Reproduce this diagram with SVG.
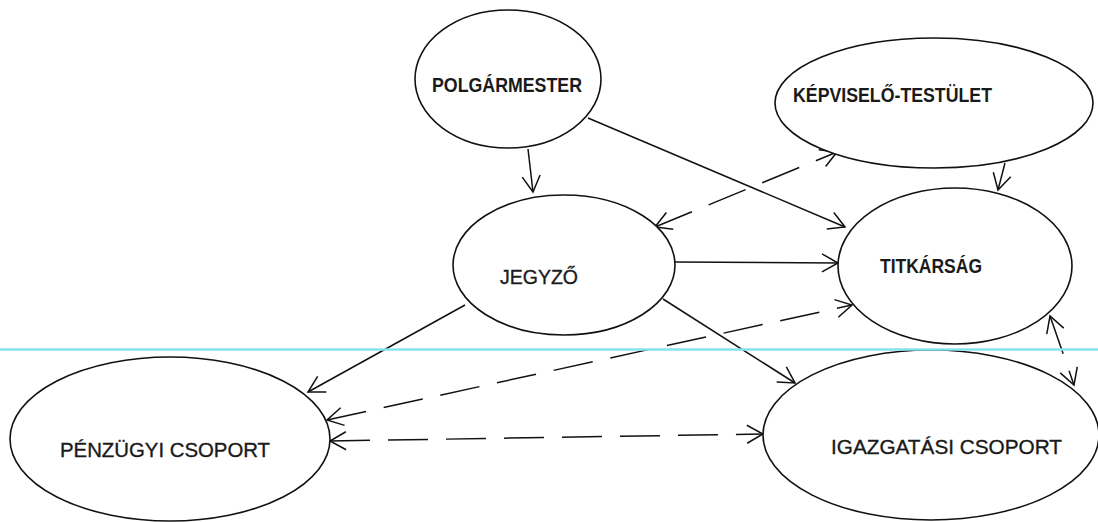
<svg xmlns="http://www.w3.org/2000/svg" width="1098" height="522" viewBox="0 0 1098 522">
<style>
.node ellipse{fill:#fff;stroke:#111;stroke-width:1.6}
.lb{font-family:"Liberation Sans",Arial,sans-serif;font-weight:bold;font-size:19.5px;fill:#1a1a1a}
.lr{font-family:"Liberation Sans",Arial,sans-serif;font-size:21px;fill:#1a1a1a;stroke:#1a1a1a;stroke-width:0.35}
.c{fill:none;stroke:#111;stroke-width:1.5}
.d{stroke-dasharray:40 18}
</style>
<defs>
<marker id="ah" markerUnits="userSpaceOnUse" markerWidth="20" markerHeight="20" viewBox="-1 -1 18 20" refX="16" refY="9" orient="auto-start-reverse">
<path d="M0,0 L16,9 L0,18" fill="none" stroke="#111" stroke-width="1.5"/>
</marker>
</defs>
<rect width="1098" height="522" fill="#fff"/>
<g id="connectors">
<path class="c" d="M528,149 L533,192" marker-end="url(#ah)"/>
<path class="c" d="M588,118 L845,227" marker-end="url(#ah)"/>
<path class="c" d="M1005,163 L998,190" marker-end="url(#ah)"/>
<path class="c d" d="M655,227 L837,152" marker-start="url(#ah)" marker-end="url(#ah)"/>
<path class="c" d="M675,262 L838,263" marker-end="url(#ah)"/>
<path class="c" d="M465,305 L308,392" marker-end="url(#ah)"/>
<path class="c" d="M663,299 L795,383" marker-end="url(#ah)"/>
<path class="c d" d="M327,420 L852,305" marker-start="url(#ah)" marker-end="url(#ah)"/>
<path class="c d" d="M330,441 L763,434" marker-start="url(#ah)" marker-end="url(#ah)"/>
<path class="c d" d="M1050,316 L1074,385" marker-start="url(#ah)" marker-end="url(#ah)"/>
</g>
<g id="polgarmester" class="node">
<ellipse cx="508" cy="79" rx="93" ry="69"/>
<text class="lb" x="432" y="92" textLength="150" lengthAdjust="spacingAndGlyphs">POLGÁRMESTER</text>
</g>
<g id="kepviselo" class="node">
<ellipse cx="934" cy="103" rx="159" ry="65"/>
<text class="lb" x="793" y="102" textLength="199" lengthAdjust="spacingAndGlyphs">KÉPVISELŐ-TESTÜLET</text>
</g>
<g id="jegyzo" class="node">
<ellipse cx="564" cy="265" rx="111" ry="70"/>
<text class="lr" x="500" y="284" textLength="78" lengthAdjust="spacingAndGlyphs">JEGYZŐ</text>
</g>
<g id="titkarsag" class="node">
<ellipse cx="955" cy="266" rx="117" ry="78"/>
<text class="lb" x="880" y="273" textLength="102" lengthAdjust="spacingAndGlyphs">TITKÁRSÁG</text>
</g>
<g id="penzugyi" class="node">
<ellipse cx="170" cy="439" rx="160" ry="82"/>
<text class="lr" x="60" y="457" textLength="210" lengthAdjust="spacingAndGlyphs">PÉNZÜGYI CSOPORT</text>
</g>
<g id="igazgatasi" class="node">
<ellipse cx="931" cy="435" rx="168" ry="85"/>
<text class="lr" x="831" y="454" textLength="231" lengthAdjust="spacingAndGlyphs">IGAZGATÁSI CSOPORT</text>
</g>
<line x1="0" y1="349.5" x2="1098" y2="349.5" stroke="#86e3ea" stroke-width="2.5"/>
</svg>
